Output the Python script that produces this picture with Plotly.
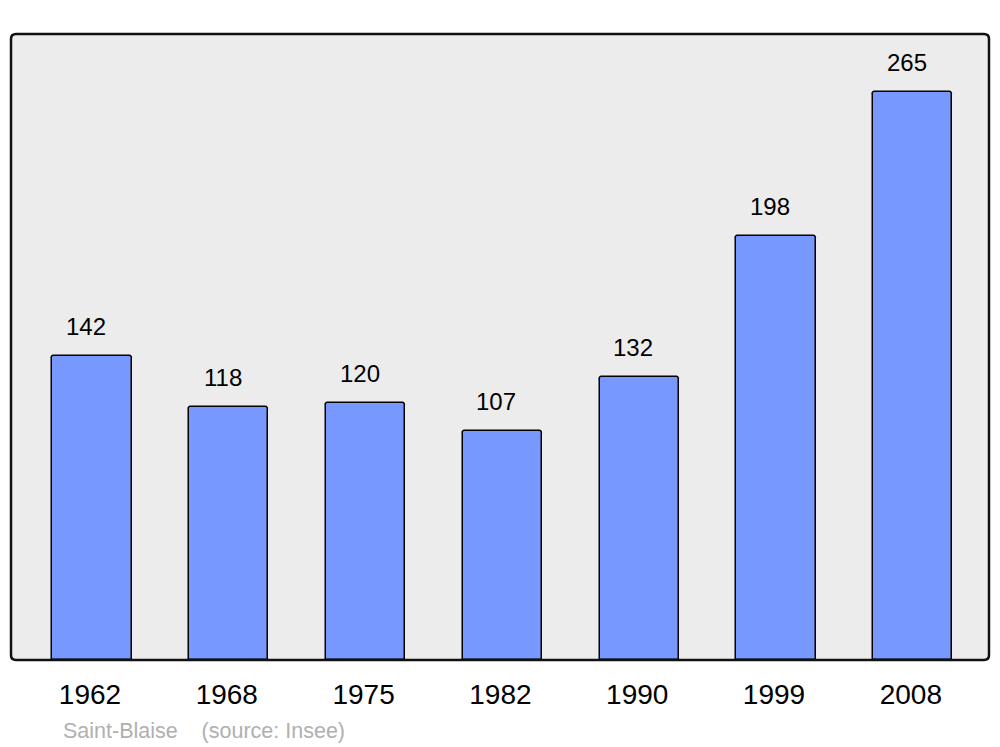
import plotly.graph_objects as go

years = ["1962", "1968", "1975", "1982", "1990", "1999", "2008"]
population = [142, 118, 120, 107, 132, 198, 265]
footer = "Saint-Blaise    (source: Insee)"

BAR_COLOR = "#7799ff"
FONT = "Liberation Sans, Arial, sans-serif"

fig = go.Figure()
fig.add_trace(go.Bar(
    x=list(range(len(years))),
    y=population,
    width=0.578,
    marker=dict(color=BAR_COLOR, line=dict(color="black", width=1.5), cornerradius=3),
    hoverinfo="skip",
))

for i, v in enumerate(population):
    fig.add_annotation(
        x=i, y=v, xref="x", yref="y", text=str(v), showarrow=False,
        xanchor="center", yanchor="bottom", xshift=-6, yshift=14,
        font=dict(family=FONT, size=24, color="black"),
    )

fig.add_annotation(
    x=50 / 978, y=0, xref="paper", yref="paper", text=footer, showarrow=False,
    xanchor="left", yanchor="top", yshift=-57,
    font=dict(family=FONT, size=21.5, color="#b0b0b0"),
)

# rounded frame around plot area
rx, ry = 5 / 978, 5 / 626
path = (f"M {rx},0 L {1-rx},0 Q 1,0 1,{ry} L 1,{1-ry} Q 1,1 {1-rx},1 "
        f"L {rx},1 Q 0,1 0,{1-ry} L 0,{ry} Q 0,0 {rx},0 Z")
fig.add_shape(type="path", path=path, xref="paper", yref="paper",
              line=dict(color="#111111", width=2.5), fillcolor="rgba(0,0,0,0)",
              layer="above")

# page body has an 8px margin, so the figure is drawn 8px in from the window corner
fig.update_layout(
    width=992, height=739,
    margin=dict(l=3, r=11, t=26, b=87),
    paper_bgcolor="white",
    plot_bgcolor="#ececec",
    showlegend=False,
    bargap=0,
    xaxis=dict(
        tickmode="array", tickvals=list(range(len(years))), ticktext=years,
        range=[-0.592, 6.557], showgrid=False, zeroline=False, showline=False,
        ticks="", tickfont=dict(family=FONT, size=28, color="black"),
        ticklabelshift=-2, ticklabelstandoff=15, fixedrange=True,
    ),
    yaxis=dict(
        range=[0, 292], showgrid=False, zeroline=False, showline=False,
        showticklabels=False, ticks="", fixedrange=True,
    ),
)

fig.write_html("out.html")
